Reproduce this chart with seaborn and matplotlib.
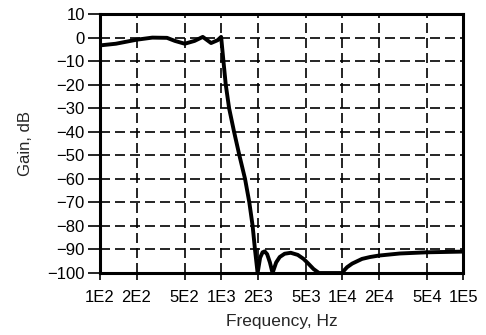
import numpy as np
import pandas as pd
import matplotlib.pyplot as plt
import seaborn as sns

# filter response
freq = [100, 135, 200, 270, 357, 415, 500, 603, 705, 826, 936, 1000,
        1045, 1092, 1164, 1279, 1415, 1576, 1710, 1821, 1904, 2002,
        2100, 2200, 2290, 2400, 2530, 2660,
        2850, 3050, 3350, 3760, 4300, 4800, 5300, 5800, 6440,
        10000, 10500, 11000, 12100, 14600, 17000, 20000, 30000, 50000, 100000]
gain = [-3.3, -2.6, -0.9, 0.0, -0.1, -1.4, -2.6, -1.4, 0.3, -2.3, -1.1, 0.3,
        -10, -20, -30, -40, -50, -60, -70, -80, -90, -100,
        -93.5, -91.2, -90.8, -92, -95.5, -100,
        -95.5, -93.2, -91.8, -91.4, -92.3, -94, -96.2, -98.3, -100,
        -100, -98.6, -97.5, -96, -94, -93.2, -92.6, -91.7, -91.2, -90.9]
xticks = [1e2, 2e2, 5e2, 1e3, 2e3, 5e3, 1e4, 2e4, 5e4, 1e5]
xlabels = ['1E2', '2E2', '5E2', '1E3', '2E3', '5E3', '1E4', '2E4', '5E4', '1E5']
yticks = list(range(-100, 11, 10))

df = pd.DataFrame({'freq': freq, 'gain': gain})

sns.set_style('white')
plt.rcParams['font.family'] = ['Liberation Sans', 'DejaVu Sans']

fig = plt.figure(figsize=(4.86, 3.35), dpi=100)
ax = fig.add_axes([0.206, 0.185, 0.747, 0.773])

sns.lineplot(data=df, x='freq', y='gain', color='black', linewidth=2.8, ax=ax)
ax.set_xscale('log')
ax.set_xlim(1e2, 1e5)
ax.set_ylim(-100, 10)
ax.set_xticks(xticks)
ax.set_xticklabels(xlabels)
ax.minorticks_off()
ax.set_yticks(yticks)
ax.set_yticklabels([str(v).replace('-', '\u2212') for v in yticks])

ax.grid(True, color='black', linestyle=(0, (6, 3)), linewidth=1.2)
for s in ax.spines.values():
    s.set_color('black')
    s.set_linewidth(2.2)
ax.tick_params(axis='y', direction='out', length=9, width=1.2,
               colors='black', labelsize=12, left=True, pad=2)
ax.tick_params(axis='x', direction='out', length=5, width=1.2,
               colors='black', labelsize=12, bottom=True, pad=7)

ax.set_xlabel('Frequency, Hz', fontsize=12.5, labelpad=7)
ax.set_ylabel('Gain, dB', fontsize=12, labelpad=10)

fig.savefig('out.png', dpi=100)
